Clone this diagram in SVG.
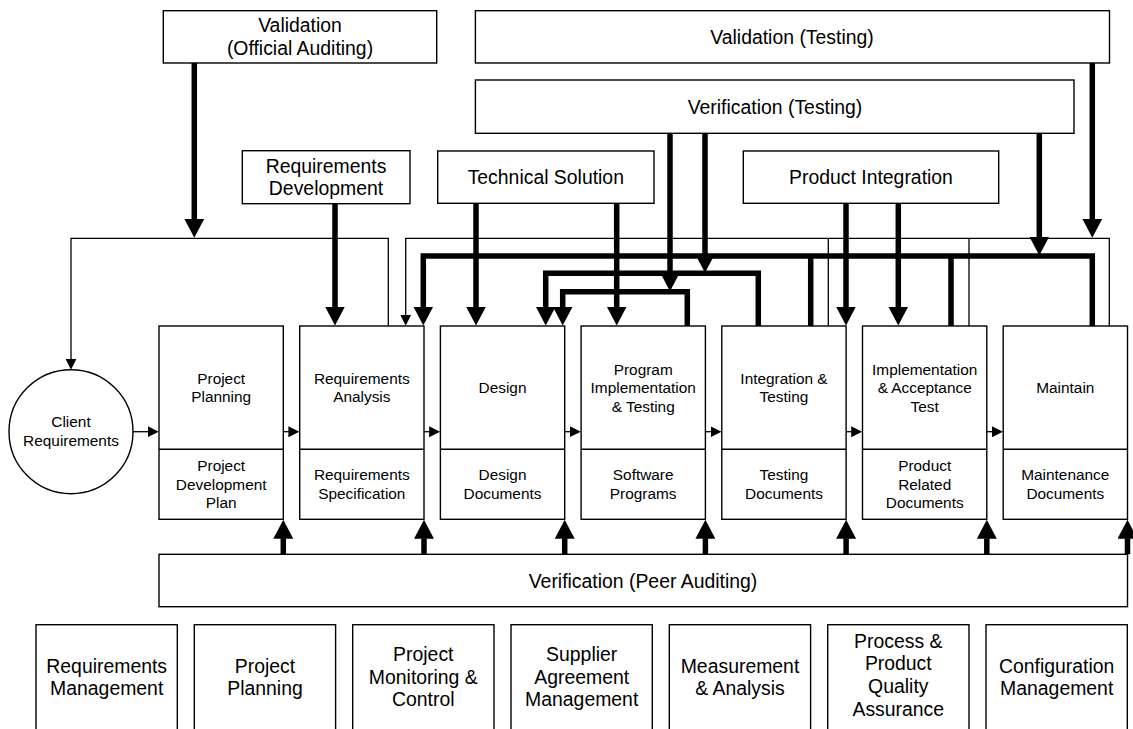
<svg xmlns="http://www.w3.org/2000/svg" width="1133" height="729" viewBox="0 0 1133 729">
<style>
.box{fill:#fff;stroke:#000;stroke-width:1.4}
.t{font-family:"Liberation Sans",Arial,sans-serif;fill:#000;text-anchor:middle}
.big{font-size:19.4px}
.sm{font-size:15.4px}
.thick{fill:none;stroke:#000;stroke-width:5.5;stroke-linejoin:miter}
.thin{fill:none;stroke:#000;stroke-width:1.3}
</style>
<defs>
<marker id="ah" viewBox="0 -10 20 20" refX="0.5" refY="0" markerWidth="20" markerHeight="20" markerUnits="userSpaceOnUse" orient="auto">
<path d="M0,-10 L19,0 L0,10 z" fill="#000"/>
</marker>
<marker id="ahs" viewBox="0 -6 12 12" refX="0.3" refY="0" markerWidth="12" markerHeight="12" markerUnits="userSpaceOnUse" orient="auto">
<path d="M0,-5.5 L11,0 L0,5.5 z" fill="#000"/>
</marker>
</defs>
<rect width="1133" height="729" fill="#fff"/>

<g id="validation-official">
<rect class="box" x="163.3" y="10.7" width="273.4" height="52.3"/>
<text class="t big" x="300" y="31.5">Validation</text>
<text class="t big" x="300" y="55">(Official Auditing)</text>
</g>
<g id="validation-testing">
<rect class="box" x="475.4" y="10.7" width="634.1" height="52.3"/>
<text class="t big" x="792" y="44">Validation (Testing)</text>
</g>
<g id="verification-testing">
<rect class="box" x="475.4" y="80" width="598.6" height="53.3"/>
<text class="t big" x="775" y="113.7">Verification (Testing)</text>
</g>
<g id="requirements-development">
<rect class="box" x="242.3" y="150.7" width="167.7" height="53"/>
<text class="t big" x="326" y="172.5">Requirements</text>
<text class="t big" x="326" y="195">Development</text>
</g>
<g id="technical-solution">
<rect class="box" x="437.7" y="151" width="216.3" height="52.3"/>
<text class="t big" x="545.8" y="183.5">Technical Solution</text>
</g>
<g id="product-integration">
<rect class="box" x="743.3" y="151" width="255.4" height="52.3"/>
<text class="t big" x="871" y="183.5">Product Integration</text>
</g>

<g id="client-requirements">
<circle class="box" cx="71" cy="431.7" r="62"/>
<text class="t sm" x="71" y="427.2">Client</text>
<text class="t sm" x="71" y="445.5">Requirements</text>
</g>

<g id="project-planning">
<rect class="box" x="159" y="326" width="124.3" height="193.3"/>
<line class="box" x1="159" y1="449.3" x2="283.3" y2="449.3"/>
<text class="t sm" x="221.2" y="383.8">Project</text>
<text class="t sm" x="221.2" y="402.2">Planning</text>
<text class="t sm" x="221.2" y="470.5">Project</text>
<text class="t sm" x="221.2" y="489.5">Development</text>
<text class="t sm" x="221.2" y="508.2">Plan</text>
</g>
<g id="requirements-analysis">
<rect class="box" x="299.7" y="326" width="124.3" height="193.3"/>
<line class="box" x1="299.7" y1="449.3" x2="424" y2="449.3"/>
<text class="t sm" x="361.8" y="383.8">Requirements</text>
<text class="t sm" x="361.8" y="402.2">Analysis</text>
<text class="t sm" x="361.8" y="480.3">Requirements</text>
<text class="t sm" x="361.8" y="498.8">Specification</text>
</g>
<g id="design">
<rect class="box" x="440.4" y="326" width="124.3" height="193.3"/>
<line class="box" x1="440.4" y1="449.3" x2="564.7" y2="449.3"/>
<text class="t sm" x="502.5" y="393">Design</text>
<text class="t sm" x="502.5" y="480.3">Design</text>
<text class="t sm" x="502.5" y="498.8">Documents</text>
</g>
<g id="program-implementation">
<rect class="box" x="581.1" y="326" width="124.3" height="193.3"/>
<line class="box" x1="581.1" y1="449.3" x2="705.4" y2="449.3"/>
<text class="t sm" x="643.2" y="374.5">Program</text>
<text class="t sm" x="643.2" y="393">Implementation</text>
<text class="t sm" x="643.2" y="411.5">&amp; Testing</text>
<text class="t sm" x="643.2" y="480.3">Software</text>
<text class="t sm" x="643.2" y="498.8">Programs</text>
</g>
<g id="integration-testing">
<rect class="box" x="721.8" y="326" width="124.3" height="193.3"/>
<line class="box" x1="721.8" y1="449.3" x2="846.1" y2="449.3"/>
<text class="t sm" x="784" y="383.8">Integration &amp;</text>
<text class="t sm" x="784" y="402.2">Testing</text>
<text class="t sm" x="784" y="480.3">Testing</text>
<text class="t sm" x="784" y="498.8">Documents</text>
</g>
<g id="implementation-acceptance">
<rect class="box" x="862.5" y="326" width="124.3" height="193.3"/>
<line class="box" x1="862.5" y1="449.3" x2="986.8" y2="449.3"/>
<text class="t sm" x="924.7" y="374.5">Implementation</text>
<text class="t sm" x="924.7" y="393">&amp; Acceptance</text>
<text class="t sm" x="924.7" y="411.5">Test</text>
<text class="t sm" x="924.7" y="470.5">Product</text>
<text class="t sm" x="924.7" y="489.5">Related</text>
<text class="t sm" x="924.7" y="508.2">Documents</text>
</g>
<g id="maintain">
<rect class="box" x="1003.2" y="326" width="124.3" height="193.3"/>
<line class="box" x1="1003.2" y1="449.3" x2="1127.5" y2="449.3"/>
<text class="t sm" x="1065.3" y="393">Maintain</text>
<text class="t sm" x="1065.3" y="480.3">Maintenance</text>
<text class="t sm" x="1065.3" y="498.8">Documents</text>
</g>

<g id="verification-peer">
<rect class="box" x="159" y="554.3" width="968.5" height="52.4"/>
<text class="t big" x="643" y="587.5">Verification (Peer Auditing)</text>
</g>

<g id="requirements-management">
<rect class="box" x="36" y="624.7" width="141.3" height="120"/>
<text class="t big" x="106.7" y="672.6">Requirements</text>
<text class="t big" x="106.7" y="695.4">Management</text>
</g>
<g id="project-planning-pa">
<rect class="box" x="194.3" y="624.7" width="141.3" height="120"/>
<text class="t big" x="265" y="672.6">Project</text>
<text class="t big" x="265" y="695.4">Planning</text>
</g>
<g id="project-monitoring">
<rect class="box" x="352.7" y="624.7" width="141.3" height="120"/>
<text class="t big" x="423.3" y="660.8">Project</text>
<text class="t big" x="423.3" y="683.5">Monitoring &amp;</text>
<text class="t big" x="423.3" y="706.2">Control</text>
</g>
<g id="supplier-agreement">
<rect class="box" x="511" y="624.7" width="141.3" height="120"/>
<text class="t big" x="581.7" y="660.8">Supplier</text>
<text class="t big" x="581.7" y="683.5">Agreement</text>
<text class="t big" x="581.7" y="706.2">Management</text>
</g>
<g id="measurement-analysis">
<rect class="box" x="669.3" y="624.7" width="141.3" height="120"/>
<text class="t big" x="740" y="672.6">Measurement</text>
<text class="t big" x="740" y="695.4">&amp; Analysis</text>
</g>
<g id="ppqa">
<rect class="box" x="827.7" y="624.7" width="141.3" height="120"/>
<text class="t big" x="898.3" y="647.5">Process &amp;</text>
<text class="t big" x="898.3" y="670.2">Product</text>
<text class="t big" x="898.3" y="692.9">Quality</text>
<text class="t big" x="898.3" y="715.6">Assurance</text>
</g>
<g id="configuration-management">
<rect class="box" x="986" y="624.7" width="141.3" height="120"/>
<text class="t big" x="1056.7" y="672.6">Configuration</text>
<text class="t big" x="1056.7" y="695.4">Management</text>
</g>

<g id="connectors">
<!-- thin feedback loops -->
<path class="thin" d="M388.3,326 V238.3 H71 V359" marker-end="url(#ahs)"/>
<path class="thin" d="M1109.3,326 V238.3 H405.7 V315" marker-end="url(#ahs)"/>
<path class="thin" d="M828.3,238.3 V326 M969,238.3 V326"/>
<!-- thick distribution lines -->
<path class="thick" d="M1092.3,326 V256 H423.3 V307" marker-end="url(#ah)"/>
<path class="thick" d="M810.7,256 V326 M951,256 V326"/>
<path class="thick" d="M758.3,326 V273.3 H545.7 V307" marker-end="url(#ah)"/>
<path class="thick" d="M687.3,326 V291.7 H562.7 V307" marker-end="url(#ah)"/>
<!-- from top boxes -->
<path class="thick" d="M194.3,63 V219.3" marker-end="url(#ah)"/>
<path class="thick" d="M1092.3,63 V219.3" marker-end="url(#ah)"/>
<path class="thick" d="M670,133.3 V272.7" marker-end="url(#ah)"/>
<path class="thick" d="M705,133.3 V254.3" marker-end="url(#ah)"/>
<path class="thick" d="M1039.3,133.3 V237" marker-end="url(#ah)"/>
<path class="thick" d="M335,203.7 V307" marker-end="url(#ah)"/>
<path class="thick" d="M476,203.3 V307" marker-end="url(#ah)"/>
<path class="thick" d="M616.7,203.3 V307" marker-end="url(#ah)"/>
<path class="thick" d="M846,203.3 V307" marker-end="url(#ah)"/>
<path class="thick" d="M898.3,203.3 V307" marker-end="url(#ah)"/>
<!-- horizontal flow -->
<path class="thin" d="M133,431.7 H148" marker-end="url(#ahs)"/>
<path class="thin" d="M283.3,431.7 H288.7" marker-end="url(#ahs)"/>
<path class="thin" d="M424,431.7 H429.4" marker-end="url(#ahs)"/>
<path class="thin" d="M564.7,431.7 H570.1" marker-end="url(#ahs)"/>
<path class="thin" d="M705.4,431.7 H710.8" marker-end="url(#ahs)"/>
<path class="thin" d="M846.1,431.7 H851.5" marker-end="url(#ahs)"/>
<path class="thin" d="M986.8,431.7 H992.2" marker-end="url(#ahs)"/>
<!-- peer auditing up arrows -->
<path class="thick" d="M283.3,554.3 V538.3" marker-end="url(#ah)"/>
<path class="thick" d="M424,554.3 V538.3" marker-end="url(#ah)"/>
<path class="thick" d="M564.7,554.3 V538.3" marker-end="url(#ah)"/>
<path class="thick" d="M705.4,554.3 V538.3" marker-end="url(#ah)"/>
<path class="thick" d="M846.1,554.3 V538.3" marker-end="url(#ah)"/>
<path class="thick" d="M986.8,554.3 V538.3" marker-end="url(#ah)"/>
<path class="thick" d="M1127.5,554.3 V538.3" marker-end="url(#ah)"/>
</g>
</svg>
